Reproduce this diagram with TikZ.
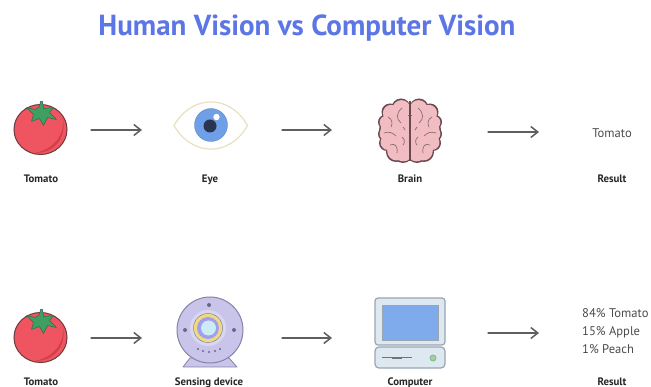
\documentclass[tikz,border=0pt]{standalone}
\usepackage{fontspec}
\setmainfont{PT Sans}
\usetikzlibrary{arrows.meta}
\definecolor{titleblue}{HTML}{5C76E6}
\definecolor{arrowgrey}{HTML}{5F5F5F}
\definecolor{tomred}{HTML}{EE5560}
\definecolor{tomdark}{HTML}{D43F4C}
\definecolor{tomedge}{HTML}{6B3A40}
\definecolor{leafgreen}{HTML}{3F9E62}
\definecolor{leafedge}{HTML}{2F6B48}
\definecolor{brainpink}{HTML}{F2BDC2}
\definecolor{brainedge}{HTML}{6A4A50}
\definecolor{irisblue}{HTML}{6F9FE6}
\definecolor{pupildark}{HTML}{2A3350}
\definecolor{eyetan}{HTML}{E9E0C4}
\definecolor{camlav}{HTML}{C9C5EA}
\definecolor{camedge}{HTML}{8583A6}
\definecolor{camyellow}{HTML}{EFDB7E}
\definecolor{camblue}{HTML}{CDEBF5}
\definecolor{pcshell}{HTML}{DDE8F0}
\definecolor{pcedge}{HTML}{9AA5B0}
\definecolor{pcscreen}{HTML}{7FAAEB}
\definecolor{pcled}{HTML}{A5CFA0}
\tikzset{
  x=1pt,y=-1pt,
  flowarrow/.style={draw=arrowgrey,line width=1.3pt,line cap=round,
    -{Straight Barb[length=7pt,width=11pt,line width=1.5pt]}},
  caption/.style={font=\bfseries\fontsize{10.8}{12}\selectfont,text=black!85,inner sep=0pt,anchor=center},
  resulttext/.style={font=\fontsize{12.6}{15}\selectfont,text=black!70,inner sep=0pt},
}
\newcommand{\drawtomato}[2]{%
  \begin{scope}[shift={(#1,#2)}]
    \fill[tomred,draw=tomedge,line width=1pt] (0,0) ellipse [x radius=26.5pt,y radius=25pt];
    \fill[tomdark] (22,-12) .. controls (25,4) and (14,20) .. (-6,23.5)
      .. controls (14,24) and (27,8) .. (22,-12) -- cycle;
    \fill[leafgreen,draw=leafedge,line width=.5pt,line join=round]
      (2,-28) -- (3,-21) -- (13,-22) -- (9,-17) -- (16,-10) -- (7,-12)
      -- (3,-4) -- (-1,-11) -- (-9,-8) -- (-7,-15) -- (-14,-22) -- (-5,-20) -- (-1,-23) -- (0,-28) -- cycle;
  \end{scope}}
\newcommand{\brainhalf}[1]{%
  \foreach \px/\py/\pr in {-9/-23/9.5,-20/-19/8.5,-25/-9/7,-25/3/7,-23/12/8,-14/21/10,-7/22/10,-12/0/19}{
    #1 (\px,\py) circle[radius=\pr pt];}}
\begin{document}
\begin{tikzpicture}
\useasboundingbox (0,0) rectangle (651,387);
\fill[white] (0,0) rectangle (651,387);
\node[font=\bfseries\fontsize{29}{32}\selectfont,text=titleblue,inner sep=0pt] (title) at (307,28) {Human Vision vs Computer Vision};

% Tomatoes
\drawtomato{40.5}{129.5}
\drawtomato{40.5}{337.5}

% Eye
\fill[white,draw=eyetan,line width=1.2pt,line join=round] (174,125.5) .. controls (192,94) and (230,94) .. (247.5,125.5)
  .. controls (230,157) and (192,157) .. (174,125.5) -- cycle;
\fill[irisblue,draw=irisblue!80!black,line width=.3pt] (211,125) circle[radius=16.5pt];
\fill[pupildark] (210,126) circle[radius=6.5pt];
\fill[white] (216.5,117) circle[radius=3.2pt];

% Brain
\begin{scope}[shift={(410,131)}]
  \foreach \sx in {1,-1}{
    \begin{scope}[xscale=\sx]
      \brainhalf{\fill[brainedge]}
    \end{scope}}
  \begin{scope}[scale=.95]
  \foreach \sx in {1,-1}{
    \begin{scope}[xscale=\sx]
      \brainhalf{\fill[brainpink]}
    \end{scope}}
  \end{scope}
  \draw[brainedge,line width=1.1pt] (0,-30) -- (0,30);
  \foreach \sx in {1,-1}{
    \begin{scope}[xscale=\sx,line width=.7pt,line cap=round]
      \draw[brainedge!80] (-8,-23) .. controls (-14,-18) and (-14,-12) .. (-9,-8);
      \draw[brainedge!80] (-22,-14) .. controls (-18,-12) and (-17,-8) .. (-19,-4);
      \draw[brainedge!80] (-26,2) .. controls (-21,0) and (-17,2) .. (-14,5);
      \draw[brainedge!80] (-8,6) .. controls (-5,8) and (-5,12) .. (-7,14);
      \draw[brainedge!80] (-20,14) .. controls (-15,12) and (-12,15) .. (-13,22);
      \draw[brainedge!80] (-7,-4) -- (-5,-1);
    \end{scope}}
\end{scope}

% Sensing device
\fill[camlav,draw=camedge,line width=.8pt,line join=round] (190,358) -- (229,358) -- (237,367) -- (183,367) -- cycle;
\fill[camlav,draw=camedge,line width=1pt] (210,330) circle[radius=33pt];
\fill[camlav!70!white] (208,328) circle[radius=18pt];
\fill[camyellow,draw=camedge,line width=.5pt] (208,328) circle[radius=14.5pt];
\fill[camlav!80!blue] (208,328) circle[radius=11pt];
\fill[camblue] (208.5,328) circle[radius=7.5pt];
\foreach \dx/\dy in {209/305,185/330,234/330}{\fill[camedge!80!black] (\dx,\dy) circle[radius=2pt];}
\foreach \dx/\dy in {198/349,203/351,209/352,215/351,220/349}{\fill[camedge!80!black] (\dx,\dy) circle[radius=1.1pt];}

% Computer
\fill[pcshell,draw=pcedge,line width=1.2pt,rounded corners=3pt] (375,298) rectangle (445,345);
\fill[pcscreen,draw=pcedge,line width=.5pt] (382,305) rectangle (438,340);
\fill[pcshell,draw=pcedge,line width=1.2pt,rounded corners=4pt] (375,347) rectangle (445,368);
\draw[black!55,line width=.8pt] (382,357) -- (412,357);
\draw[black!55,line width=1.2pt] (392,358) -- (402,358);
\fill[pcled,draw=pcedge!80!green,line width=.8pt] (433,358) circle[radius=3pt];

% Arrows
\coordinate (a1s) at (91,130);  \coordinate (a1e) at (142,130);
\coordinate (a2s) at (282,130); \coordinate (a2e) at (332,130);
\coordinate (a3s) at (488,132); \coordinate (a3e) at (539,132);
\coordinate (b1s) at (91,338);  \coordinate (b1e) at (142,338);
\coordinate (b2s) at (282,338); \coordinate (b2e) at (332,338);
\coordinate (b3s) at (488,333); \coordinate (b3e) at (539,333);
\draw[flowarrow] (a1s) -- (a1e);
\draw[flowarrow] (a2s) -- (a2e);
\draw[flowarrow] (a3s) -- (a3e);
\draw[flowarrow] (b1s) -- (b1e);
\draw[flowarrow] (b2s) -- (b2e);
\draw[flowarrow] (b3s) -- (b3e);

% Labels
\node[caption,anchor=base] (l1) at (41,182.5) {Tomato};
\node[caption,anchor=base] (l2) at (210,182.5) {Eye};
\node[caption,anchor=base] (l3) at (410,182.5) {Brain};
\node[caption,anchor=base] (l4) at (612,182.5) {Result};
\node[caption,anchor=base] (l5) at (41,385) {Tomato};
\node[caption,anchor=base] (l6) at (209,385) {Sensing device};
\node[caption,anchor=base] (l7) at (410,385) {Computer};
\node[caption,anchor=base] (l8) at (612,385) {Result};
\node[resulttext,anchor=base] (r1) at (612,138) {Tomato};
\node[resulttext,anchor=base west] (r2) at (582,318) {84\% Tomato};
\node[resulttext,anchor=base west] (r3) at (582,336) {15\% Apple};
\node[resulttext,anchor=base west] (r4) at (582,354) {1\% Peach};
\end{tikzpicture}
\end{document}
